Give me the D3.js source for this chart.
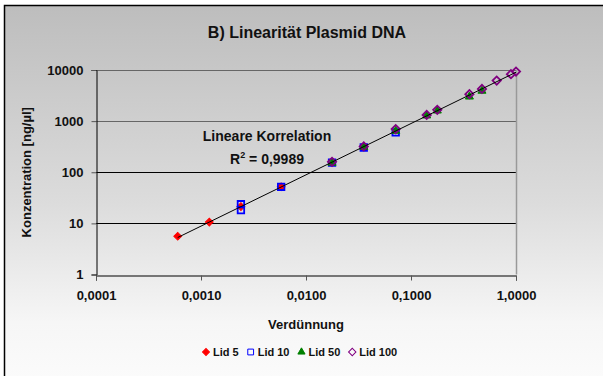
<!DOCTYPE html>
<html>
<head>
<meta charset="utf-8">
<script src="https://cdn.jsdelivr.net/npm/d3@7"></script>
<style>
  body { margin: 0; background: #fff; }
  svg { display: block; font-family: "Liberation Sans", Arial, sans-serif; font-weight: bold; }
</style>
</head>
<body>
<div id="chart"></div>
<script>
// dilution (x) and concentration (y) per lid
var lid5X = [0.0006, 0.0012, 0.0024, 0.0058];
var lid5Y = [5.6, 10.6, 21.3, 52];
var lid10X = [0.0024, 0.0024, 0.0058, 0.0177, 0.0355, 0.0715];
var lid10Y = [23.7, 18.2, 52, 155, 305, 600];
var lid50X = [0.0177, 0.0355, 0.0715, 0.141, 0.178, 0.36, 0.474];
var lid50Y = [152, 310, 640, 1280, 1600, 3000, 3900];
var lid100X = [0.0177, 0.0355, 0.0715, 0.141, 0.178, 0.36, 0.474, 0.655, 0.895, 1.0];
var lid100Y = [160, 320, 700, 1320, 1660, 3360, 4270, 6200, 8280, 9300];
var seriesNames = ["Lid 5", "Lid 10", "Lid 50", "Lid 100"];
var xTicks = [0.0001, 0.001, 0.01, 0.1, 1];
var yTicks = [1, 10, 100, 1000, 10000];
var r2Text = "0,9989";

var width = 603, height = 376;
var plotLeft = 96, plotRight = 516, plotTop = 70, plotBottom = 274.5;

// rot: rotate square 45deg to get an excel-style diamond
var series = [
  {name: seriesNames[0], xs: lid5X, ys: lid5Y, color: "#ff0000", sym: d3.symbolSquare, rot: 45, size: 30, fill: true},
  {name: seriesNames[1], xs: lid10X, ys: lid10Y, color: "#0000ff", sym: d3.symbolSquare, rot: 0, size: 42, fill: false},
  {name: seriesNames[2], xs: lid50X, ys: lid50Y, color: "#008000", sym: d3.symbolTriangle, rot: 0, size: 28, fill: true},
  {name: seriesNames[3], xs: lid100X, ys: lid100Y, color: "#800080", sym: d3.symbolSquare, rot: 45, size: 34, fill: false}
];

var svg = d3.select("#chart").append("svg")
  .attr("width", width)
  .attr("height", height);

var grad = svg.append("defs").append("linearGradient")
  .attr("id", "bg").attr("x1", 0).attr("y1", 0).attr("x2", 0).attr("y2", 1);
grad.append("stop").attr("offset", "0%").attr("stop-color", "#bdbdbd");
grad.append("stop").attr("offset", "50%").attr("stop-color", "#dcdcdc");
grad.append("stop").attr("offset", "80%").attr("stop-color", "#f6f6f6");
grad.append("stop").attr("offset", "100%").attr("stop-color", "#fdfdfd");

svg.append("rect").attr("width", width).attr("height", height).attr("fill", "#fff");
svg.append("rect")
  .attr("x", 4.5).attr("y", 5.5)
  .attr("width", width + 20).attr("height", height + 20)
  .attr("fill", "url(#bg)")
  .attr("stroke", "#000").attr("stroke-width", 1.5);

var x = d3.scaleLog().domain([0.0001, 1]).range([plotLeft, plotRight]);
var y = d3.scaleLog().domain([1, 10000]).range([plotBottom, plotTop]);

// gridlines
svg.append("g").selectAll("line")
  .data(yTicks.slice(1))
  .enter().append("line")
  .attr("x1", plotLeft).attr("x2", plotRight)
  .attr("y1", function(d){ return Math.round(y(d)) + 0.5; })
  .attr("y2", function(d){ return Math.round(y(d)) + 0.5; })
  .attr("stroke", function(d){ return d >= 1000 ? "#666" : "#000"; })
  .attr("stroke-width", 1);

// right border of plot
svg.append("line")
  .attr("x1", plotRight + 0.5).attr("x2", plotRight + 0.5)
  .attr("y1", plotTop).attr("y2", plotBottom)
  .attr("stroke", "#999").attr("stroke-width", 1.5);

var xAxis = svg.append("g")
  .attr("transform", "translate(0," + (Math.round(plotBottom) + 0.5) + ")")
  .call(d3.axisBottom(x).tickValues(xTicks).tickSize(5).tickPadding(10)
    .tickFormat(function(d){ return d3.format(".4f")(d).replace(".", ","); }));
xAxis.select(".domain").attr("stroke", "#000");
xAxis.selectAll(".tick line").attr("stroke", "#555");
xAxis.selectAll("text").attr("font-size", "13px").attr("fill", "#111").attr("font-weight", "bold").attr("font-family", "Liberation Sans, Arial");

var yAxis = svg.append("g")
  .attr("transform", "translate(" + (plotLeft + 0.5) + ",0)")
  .call(d3.axisLeft(y).tickValues(yTicks).tickSize(5).tickPadding(8)
    .tickFormat(d3.format("d")));
yAxis.select(".domain").attr("stroke", "#000");
yAxis.selectAll(".tick line").attr("stroke", "#555");
yAxis.selectAll("text").attr("font-size", "13px").attr("fill", "#111").attr("font-weight", "bold").attr("font-family", "Liberation Sans, Arial");

// markers
series.forEach(function(s){
  var pts = s.xs.map(function(v, i){ return [v, s.ys[i]]; });
  svg.append("g").selectAll("path")
    .data(pts)
    .enter().append("path")
    .attr("transform", function(d){ return "translate(" + x(d[0]) + "," + y(d[1]) + ") rotate(" + s.rot + ")"; })
    .attr("d", d3.symbol().type(s.sym).size(s.size))
    .attr("fill", s.fill ? s.color : "none")
    .attr("stroke", s.color)
    .attr("stroke-width", s.fill ? 1 : 1.8);
});

// power trend line (linear fit in log-log space)
var all = [];
series.forEach(function(s){ s.xs.forEach(function(v, i){ all.push([Math.log10(v), Math.log10(s.ys[i])]); }); });
var mx = d3.mean(all, function(d){ return d[0]; });
var my = d3.mean(all, function(d){ return d[1]; });
var slope = d3.sum(all, function(d){ return (d[0] - mx) * (d[1] - my); }) /
            d3.sum(all, function(d){ return (d[0] - mx) * (d[0] - mx); });
var icpt = my - slope * mx;
var xmin = d3.min(all, function(d){ return d[0]; }), xmax = d3.max(all, function(d){ return d[0]; });
svg.append("line")
  .attr("x1", x(Math.pow(10, xmin))).attr("y1", y(Math.pow(10, icpt + slope * xmin)))
  .attr("x2", x(Math.pow(10, xmax))).attr("y2", y(Math.pow(10, icpt + slope * xmax)))
  .attr("stroke", "#000").attr("stroke-width", 1);

// title & labels
svg.append("text").attr("x", 307).attr("y", 38).attr("text-anchor", "middle")
  .attr("font-size", "16px").attr("fill", "#111").text("B) Linearität Plasmid DNA");

svg.append("text").attr("x", 267).attr("y", 141).attr("text-anchor", "middle")
  .attr("font-size", "14px").attr("fill", "#111").text("Lineare Korrelation");
var r2 = svg.append("text").attr("x", 267).attr("y", 164).attr("text-anchor", "middle")
  .attr("font-size", "14px").attr("fill", "#111");
r2.append("tspan").text("R");
r2.append("tspan").attr("dy", -6).attr("font-size", "9px").text("2");
r2.append("tspan").attr("dy", 6).text(" = " + r2Text);

svg.append("text").attr("x", (plotLeft + plotRight) / 2).attr("y", 329).attr("text-anchor", "middle")
  .attr("font-size", "13px").attr("fill", "#111").text("Verdünnung");

svg.append("text")
  .attr("transform", "translate(31," + ((plotTop + plotBottom) / 2) + ") rotate(-90)")
  .attr("text-anchor", "middle")
  .attr("font-size", "13px").attr("fill", "#111").text("Konzentration [ng/µl]");

// legend
var legend = svg.append("g").attr("transform", "translate(0,352)");
var lx = 206;
series.forEach(function(s){
  var g = legend.append("g").attr("transform", "translate(" + lx + ",0)");
  g.append("path")
    .attr("transform", "rotate(" + s.rot + ")")
    .attr("d", d3.symbol().type(s.sym).size(s.size * 0.8))
    .attr("fill", s.fill ? s.color : "none")
    .attr("stroke", s.color).attr("stroke-width", 1);
  var t = g.append("text").attr("x", 7).attr("y", 4)
    .attr("font-size", "11px").attr("fill", "#111").text(s.name);
  lx += 13 + t.node().getComputedTextLength() + 6;
});
</script>
</body>
</html>
